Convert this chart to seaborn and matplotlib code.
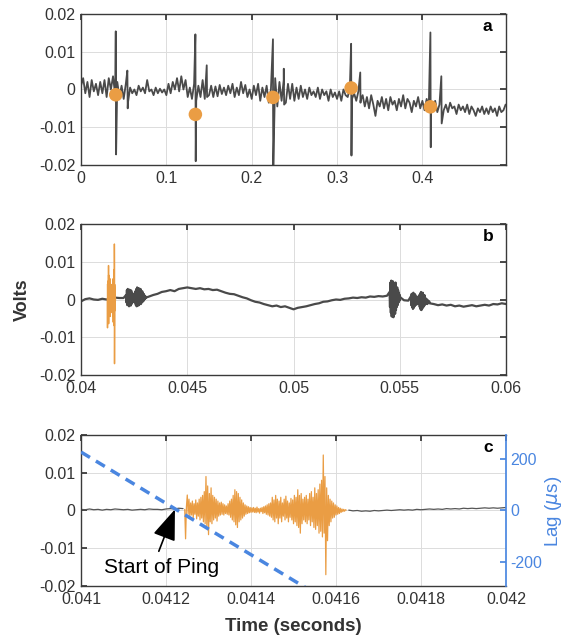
import numpy as np
import matplotlib
matplotlib.use("Agg")
import matplotlib.pyplot as plt
import seaborn as sns

# ---- panel a: half a second of record, sampled every 2.5 ms ----
a_t0, a_dt = 0.0, 0.0025
a_wave = [
    0.001, 0.003, -0.001, 0.002, -0.002, 0.0025, -0.0005, 0.0015, -0.0015, 0.002,
    -0.001, 0.0025, -0.002, 0.003, 0.0, 0.0035, -0.0015, 0.002, -0.002, 0.001,
    -0.0025, 0.0015, -0.0035, 0.0005, -0.001, 0.0, -0.0015, 0.001, -0.0005, 0.0005,
    -0.001, 0.0025, -0.0005, 0.0, -0.0015, 0.0005, -0.001, 0.0002, -0.0008, 0.0,
    -0.0015, 0.0015, -0.001, 0.002, 0.0, 0.003, -0.0005, 0.0035, 0.0, 0.0025,
    -0.002, 0.0005, -0.0025, 0.0015, -0.003, 0.001, -0.002, 0.0025, -0.0025, 0.0005,
    -0.0015, 0.001, -0.002, 0.0008, -0.0018, 0.0012, -0.0012, 0.0005, -0.0015, 0.001,
    -0.001, 0.0015, -0.002, 0.0005, -0.0015, 0.002, -0.001, 0.0012, -0.002, 0.0,
    -0.0025, 0.001, -0.0015, 0.0015, -0.003, 0.0005, -0.002, 0.001, -0.0035, 0.0,
    -0.002, 0.003, -0.0045, 0.002, -0.003, 0.0025, -0.0035, 0.0015, -0.0025, 0.0015,
    -0.003, 0.0005, -0.0025, 0.001, -0.002, 0.0, -0.0025, 0.0005, -0.0015, -0.0005,
    -0.002, 0.0005, -0.0025, 0.0, -0.0015, -0.0005, -0.003, 0.0, -0.002, -0.0008,
    -0.0025, -0.0005, -0.003, 0.0, -0.0015, -0.002, 0.0005, -0.0025, -0.001, -0.003,
    -0.0005, -0.0035, -0.0015, -0.0045, -0.002, -0.005, -0.0015, -0.004, -0.007, -0.003,
    -0.0045, -0.002, -0.005, -0.0025, -0.0055, -0.002, -0.004, -0.003, -0.0055, -0.0025,
    -0.0045, -0.0015, -0.005, -0.0025, -0.0035, -0.006, -0.003, -0.0045, -0.002, -0.005,
    -0.003, -0.0055, -0.0025, -0.0045, -0.0035, -0.005, -0.003, -0.006, -0.004, -0.0045,
    -0.0055, -0.004, -0.006, -0.0035, -0.005, -0.0045, -0.0065, -0.004, -0.0055, -0.0045,
    -0.006, -0.004, -0.0065, -0.0045, -0.0055, -0.007, -0.005, -0.006, -0.0045, -0.0065,
    -0.005, -0.0065, -0.0045, -0.006, -0.005, -0.007, -0.0045, -0.006, -0.0055, -0.004,
]
# ping spikes (main + echo) : time, peak, trough
spike_t = [0.0407, 0.0543, 0.134, 0.1473, 0.2249, 0.2376, 0.3165, 0.3272, 0.4094, 0.4222]
spike_hi = [0.0154, 0.005, 0.0146, 0.0064, 0.0133, 0.0055, 0.0121, 0.0045, 0.0151, 0.0035]
spike_lo = [-0.0172, -0.005, -0.019, -0.002, -0.021, -0.004, -0.0175, -0.003, -0.0153, -0.009]
# detected ping centres
ping_t = [0.0407, 0.134, 0.2249, 0.3165, 0.4094]
ping_v = [-0.0014, -0.0066, -0.0021, 0.0004, -0.0046]

# ---- panel b: 20 ms window, baseline every 0.2 ms ----
b_t0, b_dt = 0.040, 0.0002
b_wave = [
    -0.0005, 0.0001, 0.0003, 0.0, -0.0001, 0.0002, 0.0, 0.0002, 0.0005, 0.0004,
    0.0004, 0.0005, 0.0004, 0.0004, 0.0005, 0.0006, 0.0008, 0.0012, 0.0015, 0.002,
    0.0022, 0.0025, 0.0022, 0.0028, 0.003, 0.0032, 0.003, 0.0028, 0.003, 0.0027,
    0.0028, 0.0025, 0.0026, 0.0022, 0.0018, 0.0015, 0.0014, 0.001, 0.0006, 0.0003,
    -0.0002, -0.0006, -0.0008, -0.0012, -0.0015, -0.0018, -0.0016, -0.002, -0.0018, -0.0022,
    -0.0026, -0.0022, -0.002, -0.0018, -0.0015, -0.0012, -0.001, -0.0006, -0.0005, -0.0002,
    0.0, -0.0001, 0.0002, 0.0003, 0.0005, 0.0004, 0.0006, 0.0005, 0.0008, 0.0007,
    0.0009, 0.0008, 0.001, 0.0008, 0.0005, 0.0002, -0.0002, -0.0003, -0.0004, -0.0005,
    -0.0006, -0.0008, -0.001, -0.0012, -0.0015, -0.0013, -0.0016, -0.0014, -0.0018, -0.0016,
    -0.0019, -0.0017, -0.0015, -0.0018, -0.0016, -0.0014, -0.0016, -0.0012, -0.0013, -0.001,
    -0.0012,
]
# echo bursts, sampled every 20 us
burst_dt = 0.00002
burst1_t0 = 0.04212
burst1 = [0.0012, -0.0008, 0.0025, -0.0015, 0.0028, -0.0012, 0.0022, -0.0018, 0.0026, -0.001,
          0.002, -0.0016, 0.0024, -0.0012, 0.0018, -0.0008, 0.0015, -0.0005, 0.0012, -0.0004,
          0.0016, -0.0008, 0.0022, -0.0015, 0.0028, -0.0018, 0.0032, -0.0012, 0.0026, -0.0016,
          0.003, -0.0014, 0.0024, -0.001, 0.0028, -0.0012, 0.002, -0.0008, 0.0022, -0.0006,
          0.0016, -0.0004, 0.0014, 0.0, 0.001, 0.0002, 0.0008, 0.0005]
burst2_t0 = 0.05452
burst2 = [0.002, -0.002, 0.0045, -0.0035, 0.005, -0.0045, 0.0042, -0.004, 0.0048, -0.0047,
          0.004, -0.003, 0.0035, -0.0038, 0.0045, -0.0028, 0.003, -0.002, 0.0032, -0.0015,
          0.0025, -0.0008, 0.0018, -0.0004, 0.0012, 0.0006]
burst3_t0 = 0.05552
burst3 = [0.0008, -0.0015, 0.0015, -0.002, 0.0012, -0.0025, 0.0018, -0.0022, 0.001, -0.0018,
          0.0014, -0.0012, 0.0006, -0.0014, 0.0008, -0.001, 0.0004, -0.0012, 0.0006, -0.0008,
          0.0012, -0.002, 0.0016, -0.0026, 0.002, -0.0028, 0.0014, -0.0024, 0.0018, -0.002,
          0.001, -0.0018, 0.0012, -0.0014, 0.0004, -0.0012, 0.0002, -0.001, 0.0, -0.0012,
          -0.0002, -0.0009, -0.0004, -0.0008, -0.0006]

# ---- panel c: the ping itself, sampled every 2 us ----
ping_t0, ping_dt = 0.041244, 0.000002
ping_wave = [
    0.0003, -0.0075,
    0.001, 0.0041, -0.001, 0.003, -0.0015,
    0.002, -0.0012, 0.0025, -0.002, 0.0018, -0.001, 0.0028, -0.0022, 0.002, -0.0015,
    0.003, -0.0025, 0.0035, -0.002, 0.004, -0.003, 0.005, -0.0035,
    0.009, -0.004, 0.0065, -0.0064,
    0.0045, -0.003, 0.006, -0.0035, 0.004, -0.0025, 0.0035, -0.002, 0.003, -0.0028,
    0.0025, -0.0015, 0.002, -0.0012, 0.0022, -0.001, 0.0018, -0.0012, 0.0015, -0.0008, 0.0012,
    -0.001, 0.0018, -0.0012, 0.0025, -0.0018, 0.003, -0.0025, 0.004, -0.003, 0.0055,
    -0.0038, 0.005, -0.0045, 0.0045, -0.003, 0.0035,
    -0.0025, 0.0028, -0.002, 0.002, -0.0015, 0.0015, -0.001, 0.0012, -0.0008, 0.001,
    -0.0006, 0.0008, -0.0005,
    0.0007, -0.0004, 0.0008, -0.0005, 0.0006, -0.0006, 0.0009, -0.0004, 0.0005, -0.0007,
    0.0006, -0.0003, 0.0008, -0.0008, 0.001, -0.0006, 0.0012, -0.001, 0.0015, -0.0012,
    0.0018, -0.0015,
    0.002, -0.0018, 0.0035, -0.0025, 0.0028, -0.003, 0.004, -0.002, 0.003, -0.0035,
    0.0025, -0.002, 0.0035, -0.003, 0.002, -0.0015, 0.003, -0.0025, 0.0038, -0.002,
    0.0025, -0.003, 0.002, -0.0018, 0.0032, -0.0025, 0.0028, -0.0035, 0.004, -0.003,
    0.0035, -0.004, 0.0055, -0.0045, 0.004, -0.006, 0.0045, -0.0035, 0.003, -0.0025,
    0.0035, -0.003, 0.004, -0.0035, 0.003, -0.0025, 0.0045, -0.004, 0.005, -0.003,
    0.0035, -0.0045, 0.006, -0.005, 0.0045, -0.004, 0.0055, -0.006, 0.007, -0.0055,
    0.008, -0.007,
    0.0147, -0.006, 0.009, -0.017, 0.006,
    -0.008, 0.004, -0.004, 0.003, -0.003, 0.0025, -0.002, 0.002, -0.0018, 0.0015,
    -0.0012, 0.0012, -0.001, 0.0008, -0.0008, 0.0006, -0.0005, 0.0004, -0.0003, 0.0003,
    -0.0002, 0.0002, 0.0001,
]
# quiet record either side of the ping, every 10 us
pre_t0, quiet_dt = 0.041, 0.00001
pre_wave = [0.0003, 0.0002, 0.0004, 0.0002, 0.0003, 0.0001, 0.0003, 0.0002, 0.0004, 0.0003,
            0.0002, 0.0003, 0.0001, 0.0002, 0.0003, 0.0002, 0.0004, 0.0003, 0.0003, 0.0002,
            0.0004, 0.0005, 0.0004, 0.0006, 0.0005]
post_t0 = 0.04163
post_wave = [0.0001, -0.0001, 0.0, -0.0002, -0.0001, -0.0002, 0.0, -0.0001, 0.0, 0.0001,
             0.0, 0.0001, 0.0002, 0.0001, 0.0002, 0.0001, 0.0003, 0.0002, 0.0003, 0.0004,
             0.0003, 0.0004, 0.0003, 0.0005, 0.0004, 0.0005, 0.0004, 0.0006, 0.0005, 0.0006,
             0.0005, 0.0006, 0.0007, 0.0006, 0.0007, 0.0006, 0.0007, 0.0008]
# cross-correlation lag line
lag_t = [0.041, 0.04153]
lag_us = [226, -300]

volt_ticks = [-0.02, -0.01, 0, 0.01, 0.02]
volt_labels = ["-0.02", "-0.01", "0", "0.01", "0.02"]
a_ticks = [0, 0.1, 0.2, 0.3, 0.4]
a_labels = ["0", "0.1", "0.2", "0.3", "0.4"]
b_ticks = [0.04, 0.045, 0.05, 0.055, 0.06]
b_labels = ["0.04", "0.045", "0.05", "0.055", "0.06"]
c_ticks = [0.041, 0.0412, 0.0414, 0.0416, 0.0418, 0.042]
c_labels = ["0.041", "0.0412", "0.0414", "0.0416", "0.0418", "0.042"]
lag_ticks = [-200, 0, 200]


def sampled(t0, dt, vals):
    return t0 + dt * np.arange(len(vals)), np.array(vals)


def merge(*parts):
    t = np.concatenate([p[0] for p in parts])
    v = np.concatenate([p[1] for p in parts])
    order = np.argsort(t, kind="stable")
    return t[order], v[order]


sns.set_theme(style="white")
plt.rcParams["font.family"] = ["Liberation Sans", "DejaVu Sans"]
plt.rcParams["axes.unicode_minus"] = False

GRAY = "#4a4a4a"
ORANGE = "#EA9D44"
BLUE = "#4A86E0"
TXT = "#333333"

fig = plt.figure(figsize=(5.71, 6.38), dpi=100)
ax_a = fig.add_axes([0.1419, 0.7414, 0.7443, 0.2367])
ax_b = fig.add_axes([0.1419, 0.4122, 0.7443, 0.2367])
ax_c = fig.add_axes([0.1419, 0.0815, 0.7443, 0.2367])

# panel a
spk = (np.concatenate([spike_t, np.array(spike_t) + 0.0004]),
       np.concatenate([spike_hi, spike_lo]))
ta, va = merge(sampled(a_t0, a_dt, a_wave), spk)
sns.lineplot(x=ta, y=va, ax=ax_a, color=GRAY, lw=1.3, sort=False, estimator=None)
sns.scatterplot(x=ping_t, y=ping_v, ax=ax_a, color=ORANGE, s=95, edgecolor="none", zorder=4)
ax_a.set_xlim(0, 0.498)
ax_a.set_xticks(a_ticks, a_labels)

# panel b
tb, vb = merge(sampled(b_t0, b_dt, b_wave),
               sampled(burst1_t0, burst_dt, burst1),
               sampled(burst2_t0, burst_dt, burst2),
               sampled(burst3_t0, burst_dt, burst3))
tp, vp = sampled(ping_t0, ping_dt, ping_wave)
sns.lineplot(x=tb, y=vb, ax=ax_b, color=GRAY, lw=1.6, sort=False, estimator=None)
sns.lineplot(x=tp, y=vp, ax=ax_b, color=ORANGE, lw=1.0, sort=False, estimator=None)
ax_b.set_xlim(0.04, 0.06)
ax_b.set_xticks(b_ticks, b_labels)

# panel c
pre = sampled(pre_t0, quiet_dt, pre_wave)
post = sampled(post_t0, quiet_dt, post_wave)
sns.lineplot(x=pre[0], y=pre[1], ax=ax_c, color="#555555", lw=0.9, sort=False, estimator=None)
sns.lineplot(x=post[0], y=post[1], ax=ax_c, color="#555555", lw=0.9, sort=False, estimator=None)
sns.lineplot(x=tp, y=vp, ax=ax_c, color=ORANGE, lw=0.9, sort=False, estimator=None)
ax_c.set_xlim(0.041, 0.042)
ax_c.set_xticks(c_ticks, c_labels)

ax_l = ax_c.twinx()
sns.lineplot(x=lag_t, y=lag_us, ax=ax_l, color=BLUE, lw=2.5, sort=False,
             estimator=None).lines[0].set_dashes((3, 2))
ax_l.set_ylim(-292, 292)
ax_l.set_yticks(lag_ticks, [str(v) for v in lag_ticks])
ax_l.tick_params(axis="y", direction="in", length=4, colors=BLUE, labelsize=11.5, pad=3)
ax_l.spines["right"].set_color(BLUE)
for s in ["left", "top", "bottom"]:
    ax_l.spines[s].set_visible(False)
ax_l.grid(False)
ax_l.set_ylabel("")

# "Start of Ping" call-out (big filled head like the original)
ax_c.annotate("", xy=(0.041221, 0.0003), xytext=(0.041183, -0.0108),
              arrowprops=dict(arrowstyle="-|>,head_length=1.6,head_width=0.6",
                              color="black", lw=1.2, shrinkA=0, shrinkB=0), zorder=6)
ax_c.text(0.041053, -0.0151, "Start of Ping", fontsize=15, color="black",
          ha="left", va="center", zorder=6)

for ax, letter in [(ax_a, "a"), (ax_b, "b"), (ax_c, "c")]:
    ax.set_ylim(-0.02, 0.02)
    ax.set_yticks(volt_ticks, volt_labels)
    ax.grid(True, color="#dcdcdc", lw=0.7)
    ax.set_axisbelow(True)
    ax.tick_params(direction="in", length=4, colors=TXT, labelsize=11.5,
                   top=True, right=(ax is not ax_c), pad=4)
    for s in ax.spines.values():
        s.set_color("#3a3a3a")
        s.set_linewidth(1.0)
    if ax is ax_c:
        ax.spines["right"].set_visible(False)
    ax.set_xlabel("")
    ax.set_ylabel("")
    ax.text(0.957, 0.915, letter, transform=ax.transAxes, fontsize=12.5,
            fontweight="bold", ha="center", va="center", color="black", zorder=7)

fig.text(0.040, 0.530, "Volts", rotation=90, fontsize=13, fontweight="bold",
         ha="center", va="center", color=TXT)
fig.text(0.514, 0.018, "Time (seconds)", fontsize=13.5, fontweight="bold",
         ha="center", va="center", color=TXT)
fig.text(0.970, 0.198, r"Lag ($\mu$s)", rotation=90, fontsize=13.5,
         ha="center", va="center", color=BLUE)

fig.savefig("out.png", dpi=100)
